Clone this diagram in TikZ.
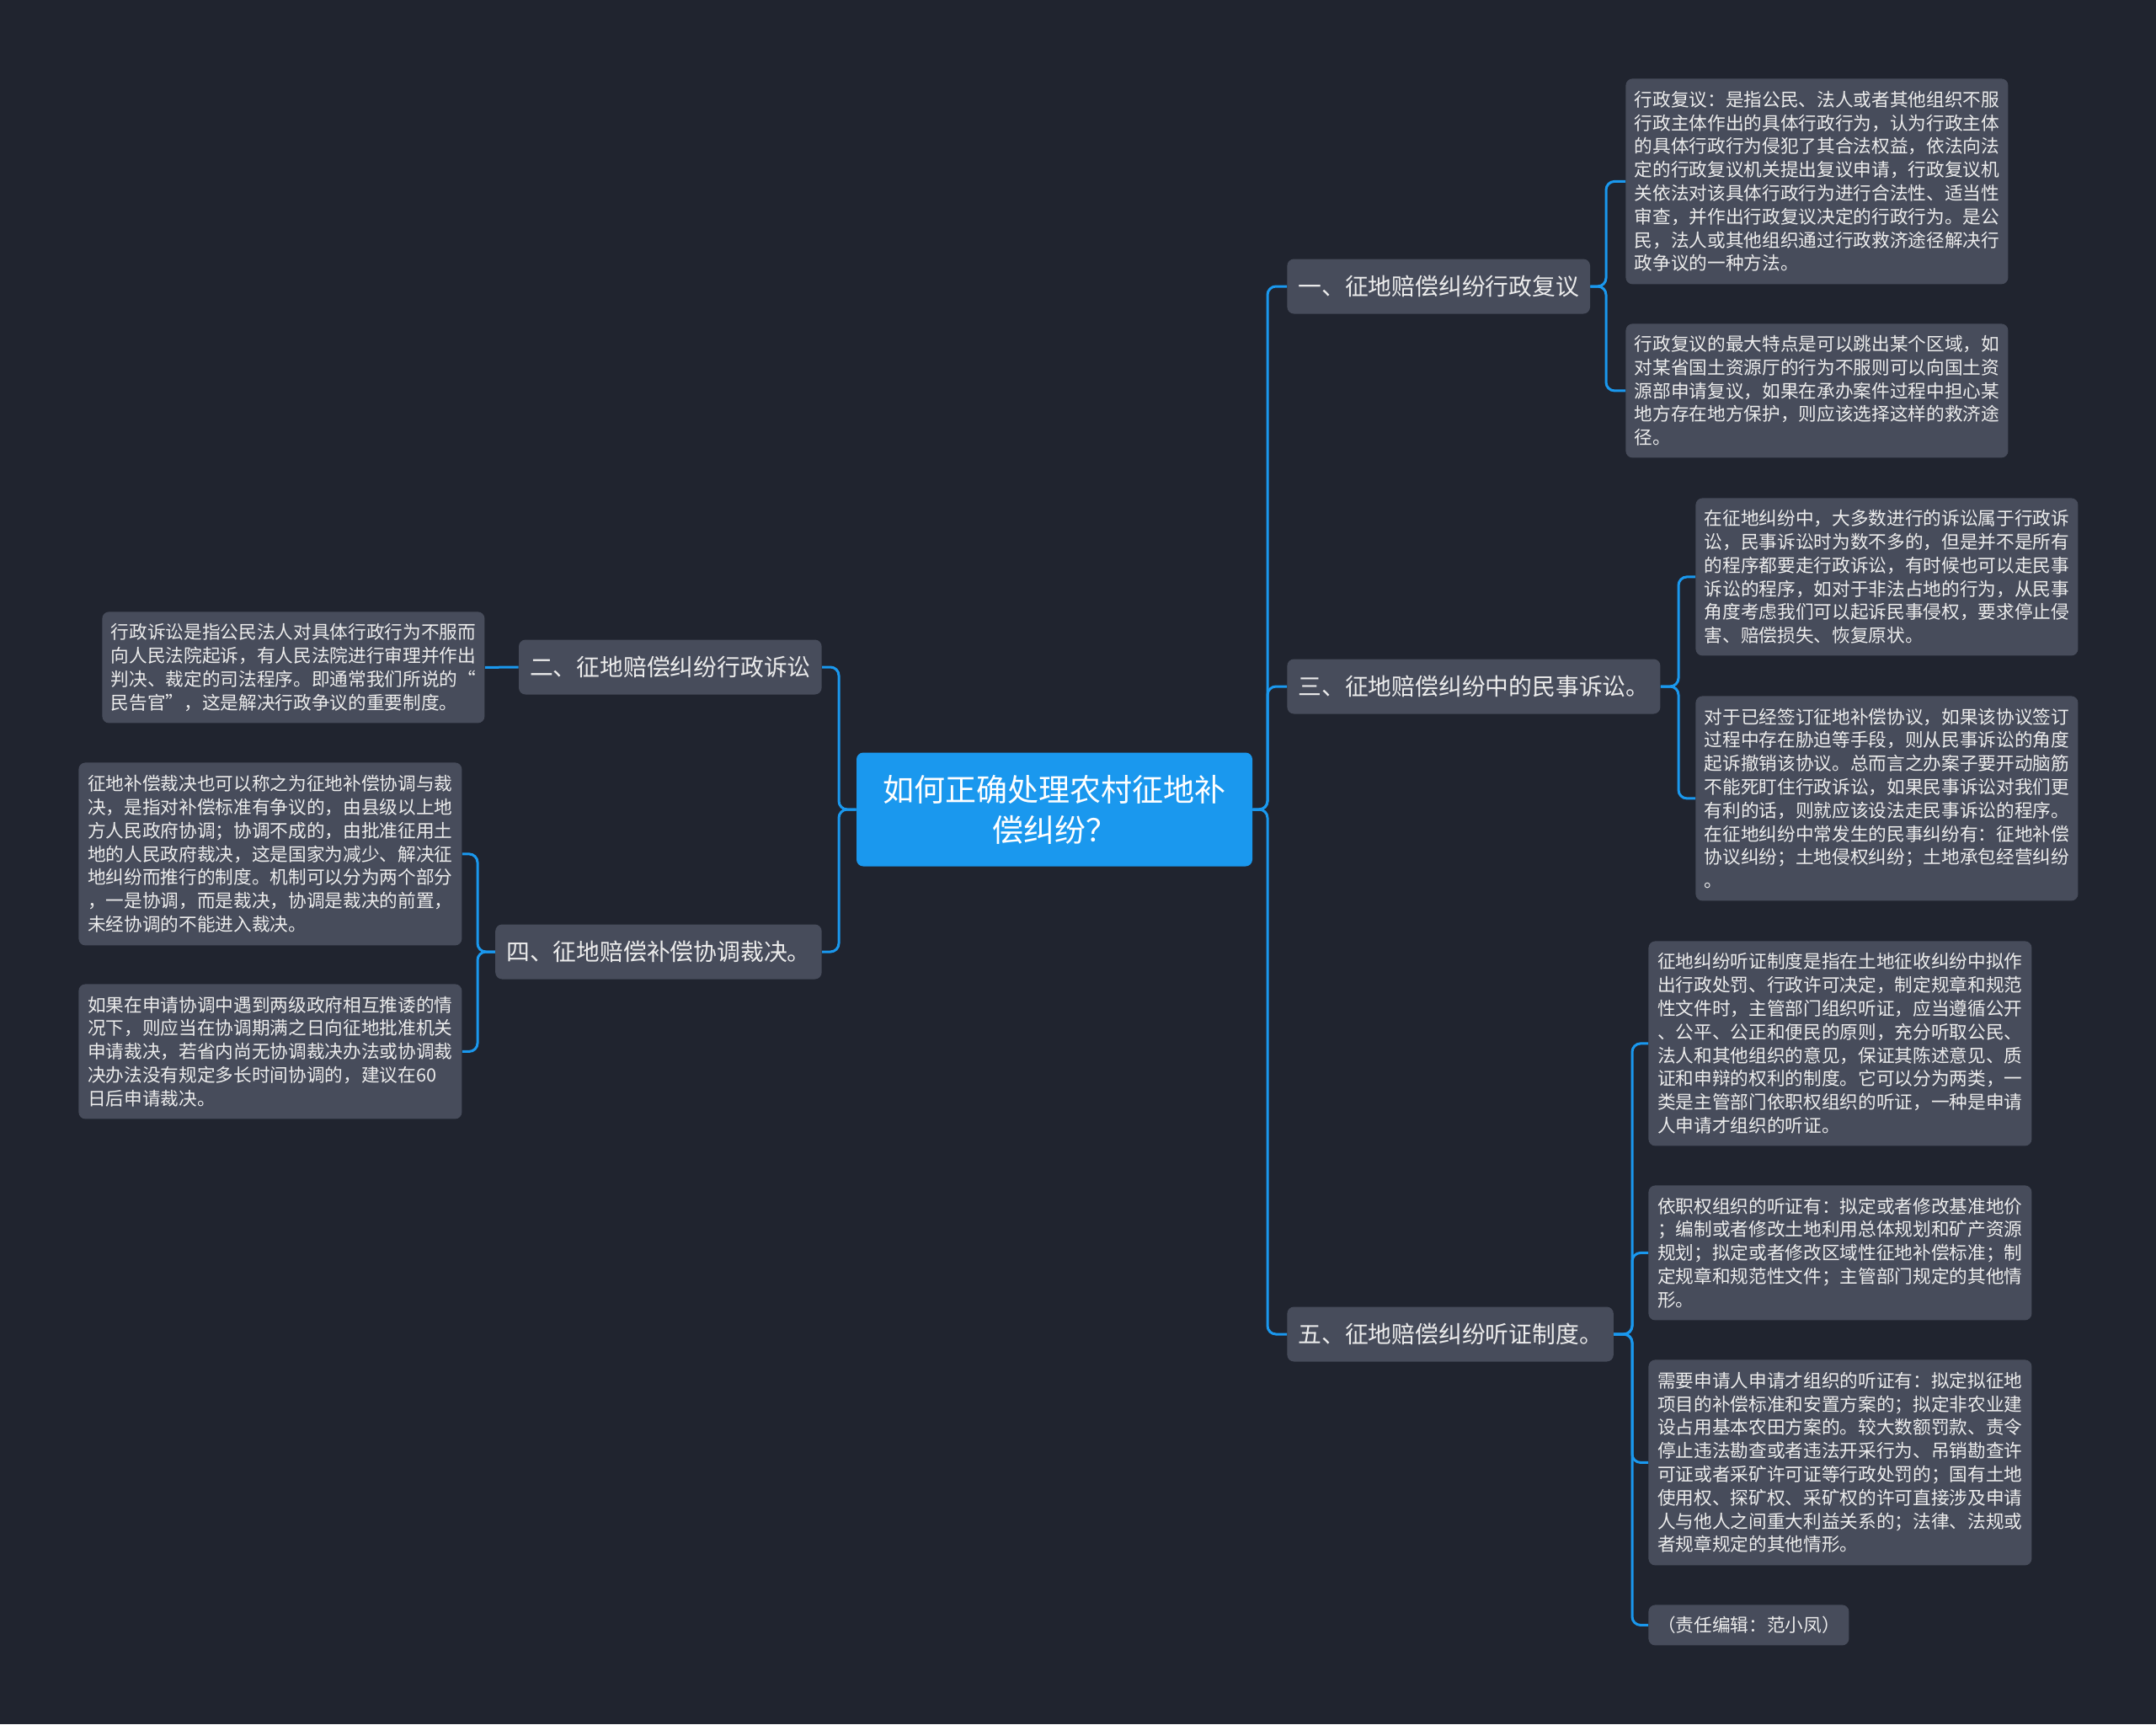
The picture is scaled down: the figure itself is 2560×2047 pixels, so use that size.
\documentclass[tikz,border=0pt]{standalone}
\usepackage{fontspec}
\setmainfont{Noto Sans CJK SC}
\definecolor{bgc}{HTML}{20242F}
\definecolor{boxc}{HTML}{474C5B}
\definecolor{txtc}{HTML}{ECECEC}
\definecolor{bluec}{HTML}{1A98EE}
\begin{document}
\begin{tikzpicture}[x=0.5pt,y=-0.5pt,
  conn/.style={draw=bluec, line width=1.5pt, rounded corners=5pt},
  leaf/.style={fill=boxc, rounded corners=4pt, text=txtc, align=left, inner sep=0pt,
    font=\fontsize{10.83}{13.9}\selectfont, anchor=north west},
  branch/.style={fill=boxc, rounded corners=4pt, text=txtc, inner xsep=6.5pt, inner ysep=0pt,
    minimum height=32.5pt, font=\fontsize{13.9}{16}\selectfont},
  rootbox/.style={fill=bluec, rounded corners=4pt, text=white, align=center, inner sep=0pt,
    minimum width=235pt, minimum height=67.5pt, font=\fontsize{18.5}{24}\selectfont}
]
\fill[bgc] (0,0) rectangle (2560,2047);
\useasboundingbox (0,0) rectangle (2560,2047);

% root
\node[rootbox] (root) at (1252,961) {如何正确处理农村征地补\\偿纠纷？};

% branches
\node[branch, anchor=west] (b1) at (1528,340) {一、征地赔偿纠纷行政复议};
\node[branch, anchor=west] (b3) at (1528,815) {三、征地赔偿纠纷中的民事诉讼。};
\node[branch, anchor=west] (b5) at (1528,1584) {五、征地赔偿纠纷听证制度。};
\node[branch, anchor=east] (b2) at (976,792) {二、征地赔偿纠纷行政诉讼};
\node[branch, anchor=east] (b4) at (976,1130) {四、征地赔偿补偿协调裁决。};

% leaves
\node[leaf, minimum width=227pt, minimum height=122pt] (l1a) at (1930,93) {行政复议：是指公民、法人或者其他组织不服\\行政主体作出的具体行政行为，认为行政主体\\的具体行政行为侵犯了其合法权益，依法向法\\定的行政复议机关提出复议申请，行政复议机\\关依法对该具体行政行为进行合法性、适当性\\审查，并作出行政复议决定的行政行为。是公\\民，法人或其他组织通过行政救济途径解决行\\政争议的一种方法。};
\node[leaf, minimum width=227pt, minimum height=79.5pt] (l1b) at (1930,384) {行政复议的最大特点是可以跳出某个区域，如\\对某省国土资源厅的行为不服则可以向国土资\\源部申请复议，如果在承办案件过程中担心某\\地方存在地方保护，则应该选择这样的救济途\\径。};
\node[leaf, minimum width=227pt, minimum height=93.5pt] (l3a) at (2013,591) {在征地纠纷中，大多数进行的诉讼属于行政诉\\讼，民事诉讼时为数不多的，但是并不是所有\\的程序都要走行政诉讼，有时候也可以走民事\\诉讼的程序，如对于非法占地的行为，从民事\\角度考虑我们可以起诉民事侵权，要求停止侵\\害、赔偿损失、恢复原状。};
\node[leaf, minimum width=227pt, minimum height=121.5pt] (l3b) at (2013,826) {对于已经签订征地补偿协议，如果该协议签订\\过程中存在胁迫等手段，则从民事诉讼的角度\\起诉撤销该协议。总而言之办案子要开动脑筋\\不能死盯住行政诉讼，如果民事诉讼对我们更\\有利的话，则就应该设法走民事诉讼的程序。\\在征地纠纷中常发生的民事纠纷有：征地补偿\\协议纠纷；土地侵权纠纷；土地承包经营纠纷\\。};
\node[leaf, minimum width=227.5pt, minimum height=121.5pt] (l5a) at (1957,1117) {征地纠纷听证制度是指在土地征收纠纷中拟作\\出行政处罚、行政许可决定，制定规章和规范\\性文件时，主管部门组织听证，应当遵循公开\\、公平、公正和便民的原则，充分听取公民、\\法人和其他组织的意见，保证其陈述意见、质\\证和申辩的权利的制度。它可以分为两类，一\\类是主管部门依职权组织的听证，一种是申请\\人申请才组织的听证。};
\node[leaf, minimum width=227.5pt, minimum height=80pt] (l5b) at (1957,1407) {依职权组织的听证有：拟定或者修改基准地价\\；编制或者修改土地利用总体规划和矿产资源\\规划；拟定或者修改区域性征地补偿标准；制\\定规章和规范性文件；主管部门规定的其他情\\形。};
\node[leaf, minimum width=227.5pt, minimum height=122pt] (l5c) at (1957,1614) {需要申请人申请才组织的听证有：拟定拟征地\\项目的补偿标准和安置方案的；拟定非农业建\\设占用基本农田方案的。较大数额罚款、责令\\停止违法勘查或者违法开采行为、吊销勘查许\\可证或者采矿许可证等行政处罚的；国有土地\\使用权、探矿权、采矿权的许可直接涉及申请\\人与他人之间重大利益关系的；法律、法规或\\者规章规定的其他情形。};
\node[leaf, minimum width=119pt, minimum height=24pt, align=center] (l5d) at (1957,1905) {（责任编辑：范小凤）};
\node[leaf, minimum width=227pt, minimum height=66pt] (l2a) at (121,726) {行政诉讼是指公民法人对具体行政行为不服而\\向人民法院起诉，有人民法院进行审理并作出\\判决、裁定的司法程序。即通常我们所说的“\\民告官”，这是解决行政争议的重要制度。};
\node[leaf, minimum width=227.5pt, minimum height=108.5pt] (l4a) at (93,905) {征地补偿裁决也可以称之为征地补偿协调与裁\\决，是指对补偿标准有争议的，由县级以上地\\方人民政府协调；协调不成的，由批准征用土\\地的人民政府裁决，这是国家为减少、解决征\\地纠纷而推行的制度。机制可以分为两个部分\\，一是协调，而是裁决，协调是裁决的前置，\\未经协调的不能进入裁决。};
\node[leaf, minimum width=227.5pt, minimum height=80pt] (l4b) at (93,1168) {如果在申请协调中遇到两级政府相互推诿的情\\况下，则应当在协调期满之日向征地批准机关\\申请裁决，若省内尚无协调裁决办法或协调裁\\决办法没有规定多长时间协调的，建议在60\\日后申请裁决。};

% connectors: root to branches
\draw[conn] (root.east) -- (1505,961) |- (b1.west);
\draw[conn] (root.east) -- (1505,961) |- (b3.west);
\draw[conn] (root.east) -- (1505,961) |- (b5.west);
\draw[conn] (root.west) -- (996,961) |- (b2.east);
\draw[conn] (root.west) -- (996,961) |- (b4.east);

% branches to leaves
\draw[conn] (b1.east) -- (1907,340) |- (l1a.west);
\draw[conn] (b1.east) -- (1907,340) |- (l1b.west);
\draw[conn] (b3.east) -- (1993,815) |- (l3a.west);
\draw[conn] (b3.east) -- (1993,815) |- (l3b.west);
\draw[conn] (b5.east) -- (1938,1584) |- (l5a.west);
\draw[conn] (b5.east) -- (1938,1584) |- (l5b.west);
\draw[conn] (b5.east) -- (1938,1584) |- (l5c.west);
\draw[conn] (b5.east) -- (1938,1584) |- (l5d.west);
\draw[conn] (b2.west) -- (l2a.east);
\draw[conn] (b4.west) -- (567,1130) |- (l4a.east);
\draw[conn] (b4.west) -- (567,1130) |- (l4b.east);
\end{tikzpicture}
\end{document}
